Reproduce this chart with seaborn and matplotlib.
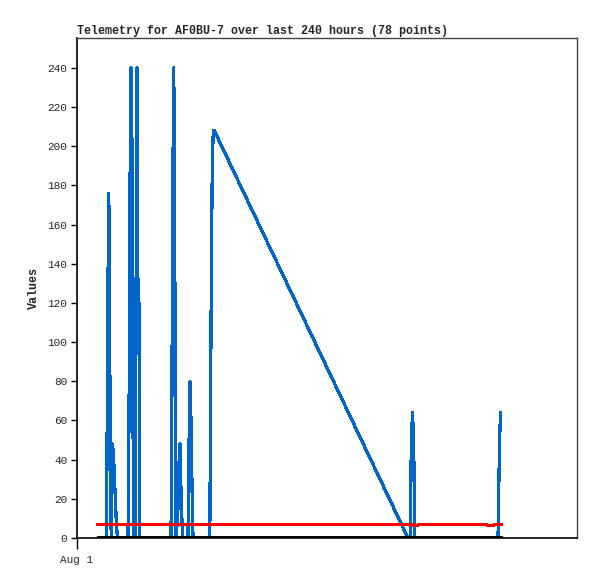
import matplotlib
matplotlib.use("Agg")
import matplotlib.pyplot as plt
import seaborn as sns
import pandas as pd

# hours since Aug 1 00:00
blue_hours = [9.84, 14.16, 14.4, 14.88, 15.26, 15.6, 15.94, 16.42, 17.04, 17.52, 18.0, 18.48, 18.96, 19.44,
              24.48, 24.96, 25.44, 25.92, 26.4, 26.64, 26.98, 27.26, 27.6, 27.94, 28.32, 28.8, 29.28, 29.76, 30.0,
              45.12, 45.5, 45.98, 46.46, 47.04, 47.52, 48.38, 48.86, 49.44, 49.92, 50.4, 50.88,
              53.28, 53.66, 54.24, 54.72, 55.3, 55.68,
              63.74, 63.98, 64.46, 64.94, 65.42, 65.9, 158.88,
              159.98, 160.46, 161.04, 161.62, 162.1,
              202.08, 202.32, 202.8, 203.28]
blue_values = [0, 0, 44, 132, 176, 132, 44, 0, 48, 42, 30, 18, 6, 0,
               0, 60, 180, 240, 200, 120, 40, 0, 120, 0, 120, 240, 120, 120, 0,
               0, 60, 180, 240, 120, 0, 12, 36, 48, 24, 8, 0,
               0, 40, 80, 60, 20, 0,
               0, 44, 132, 192, 208, 208, 0,
               0, 48, 64, 48, 0,
               0, 16, 48, 64]

red_hours = [9.84, 161.0, 161.6, 163.0, 164.0, 196.1, 197.5, 199.4, 200.6, 203.8]
red_values = [7.0, 7.0, 6.2, 6.2, 7.0, 7.0, 6.2, 6.2, 7.0, 7.0]

black_hours = [9.84, 203.8]
black_values = [0, 0]

title = "Telemetry for AF0BU-7 over last 240 hours (78 points)"
y_ticks = list(range(0, 241, 20))
x_tick_label = "Aug 1"

df = pd.concat([
    pd.DataFrame({"hour": blue_hours, "value": blue_values, "series": "a"}),
    pd.DataFrame({"hour": red_hours, "value": red_values, "series": "b"}),
    pd.DataFrame({"hour": black_hours, "value": black_values, "series": "c"}),
], ignore_index=True)

sns.set_style("white")
plt.rcParams["font.family"] = ["Liberation Mono", "DejaVu Sans Mono"]

fig = plt.figure(figsize=(5.97, 5.79), dpi=100)
ax = fig.add_axes([77 / 597, 41 / 579, 500 / 597, 500 / 579])

sns.lineplot(data=df, x="hour", y="value", hue="series",
             palette={"a": "#0066cc", "b": "#ff0000", "c": "#000000"},
             estimator=None, sort=False, linewidth=1.6, legend=False, ax=ax,
             antialiased=False)

ax.set_xlim(0, 240)
ax.set_ylim(0, 255.3)
ax.set_yticks(y_ticks)
ax.set_yticklabels([str(v) for v in y_ticks], fontsize=8)
ax.set_xticks([0])
ax.set_xticklabels([x_tick_label], fontsize=8)
ax.tick_params(axis="y", direction="out", length=4, width=1, color="black", pad=3, left=True)
ax.tick_params(axis="x", direction="out", length=8, width=1, color="black", pad=4, bottom=True)
ax.set_xlabel("")
ax.set_ylabel("Values", fontsize=8.5, fontweight="bold", labelpad=5)
ax.set_title(title, fontsize=8.4, fontweight="bold", loc="left", pad=3)

for side in ["top", "right"]:
    ax.spines[side].set_color("#444444")
    ax.spines[side].set_linewidth(1)
for side in ["left", "bottom"]:
    ax.spines[side].set_color("black")
    ax.spines[side].set_linewidth(1.2)
ax.grid(False)

fig.savefig("out.png", dpi=100)
